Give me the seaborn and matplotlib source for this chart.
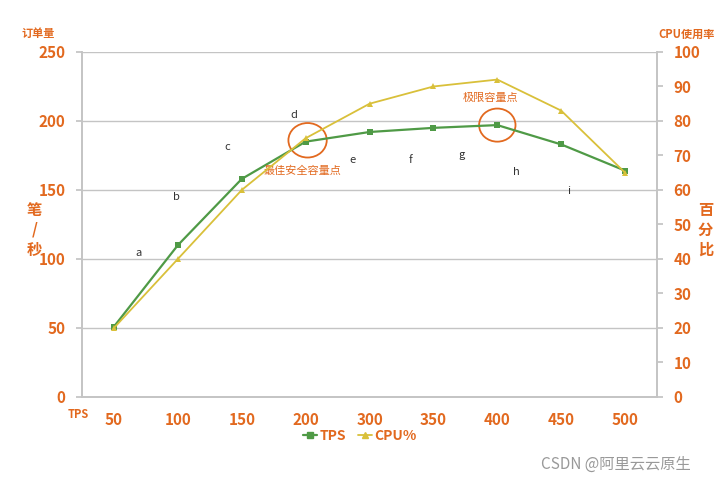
import numpy as np
import pandas as pd
import matplotlib
matplotlib.use('Agg')
import matplotlib.pyplot as plt
from matplotlib.patches import Ellipse
from matplotlib.lines import Line2D
import seaborn as sns

# values
users = ['50', '100', '150', '200', '300', '350', '400', '450', '500']
tps = [51, 110, 158, 185, 192, 195, 197, 183, 164]
cpu = [20, 40, 60, 75, 85, 90, 92, 83, 65]

stage_letters = ['a', 'b', 'c', 'd', 'e', 'f', 'g', 'h', 'i']
letter_x = [0.38, 0.98, 1.78, 2.81, 3.73, 4.64, 5.44, 6.3, 7.12]
letter_y = [104, 145, 181, 204, 172, 172, 175, 163, 149]

orange = '#e2691f'
green = '#4f9a46'
yellow = '#d9c03a'
grid_grey = '#c4c4c4'

sns.set_theme(style='white')
plt.rcParams['font.family'] = ['Noto Sans CJK SC', 'DejaVu Sans']

df = pd.DataFrame({'users': users, 'TPS': tps, 'CPU': cpu})

fig = plt.figure(figsize=(7.2, 4.84), dpi=100)
ax = fig.add_axes([0.114, 0.180, 0.7985, 0.7126])
ax2 = ax.twinx()

sns.lineplot(data=df, x='users', y='TPS', ax=ax, color=green, lw=1.6,
             marker='s', markersize=4, markeredgewidth=0, sort=False)
sns.lineplot(data=df, x='users', y='CPU', ax=ax2, color=yellow, lw=1.3,
             marker='^', markersize=4, markeredgewidth=0, sort=False)

ax.set_xlim(-0.5, len(users) - 0.5)
ax.set_ylim(0, 250)
ax2.set_ylim(0, 100)
ax.set_yticks(np.arange(0, 251, 50))
ax2.set_yticks(np.arange(0, 101, 10))
ax.set_xlabel('')
ax.set_ylabel('')
ax2.set_ylabel('')

# grid and frame
ax.grid(axis='y', color=grid_grey, lw=1)
ax.grid(axis='x', visible=False)
ax2.grid(False)
for a in (ax, ax2):
    for side in ('left', 'right', 'bottom'):
        a.spines[side].set_color(grid_grey)
        a.spines[side].set_linewidth(1.2)
    a.spines['top'].set_visible(False)

tick_font = dict(fontsize=11, fontweight='bold', color=orange)
ax.set_xticks(range(len(users)))
ax.set_xticklabels(users, **tick_font)
ax.set_xticks(np.arange(-0.5, len(users), 1), minor=True)
ax.tick_params(axis='x', which='major', length=0, pad=11)
ax.tick_params(axis='x', which='minor', length=4, color=grid_grey, direction='out')
ax.tick_params(axis='y', length=4, color=grid_grey, pad=8)
ax2.tick_params(axis='y', length=4, color=grid_grey, pad=8)
for lbl in ax.get_yticklabels() + ax2.get_yticklabels():
    lbl.set_fontsize(11)
    lbl.set_fontweight('bold')
    lbl.set_color(orange)

# stage letters
for s, lx, ly in zip(stage_letters, letter_x, letter_y):
    ax.text(lx, ly, s, fontsize=8, color='#333333', ha='center', va='center')

# capacity circles and notes
ax.add_patch(Ellipse((3.03, 186), 0.6, 25, fill=False, ec=orange, lw=1.3))
ax.add_patch(Ellipse((6.0, 197), 0.57, 24, fill=False, ec=orange, lw=1.3))
ax.text(2.95, 164, '最佳安全容量点', color=orange, fontsize=8, ha='center', va='center')
ax.text(5.9, 217, '极限容量点', color=orange, fontsize=8, ha='center', va='center')

# axis titles
lab_font = dict(color=orange, fontweight='bold')
fig.text(0.053, 0.930, '订单量', fontsize=8, ha='center', va='center', **lab_font)
fig.text(0.953, 0.930, 'CPU使用率', fontsize=8, ha='center', va='center', **lab_font)
fig.text(0.108, 0.144, 'TPS', fontsize=8, ha='center', va='center', **lab_font)
fig.text(0.048, 0.525, '笔\n/\n秒', fontsize=11, ha='center', va='center',
         linespacing=1.3, **lab_font)
fig.text(0.980, 0.525, '百\n分\n比', fontsize=11, ha='center', va='center',
         linespacing=1.3, **lab_font)

handles = [Line2D([], [], color=green, marker='s', markersize=4, lw=1.6),
           Line2D([], [], color=yellow, marker='^', markersize=4, lw=1.3)]
leg = fig.legend(handles, ['TPS', 'CPU%'], loc='center', bbox_to_anchor=(0.5, 0.099),
                 ncol=2, frameon=False, handlelength=1.0, handletextpad=0.2,
                 columnspacing=0.8, prop={'weight': 'bold', 'size': 10})
for t in leg.get_texts():
    t.set_color(orange)

fig.text(0.855, 0.04, 'CSDN @阿里云云原生', fontsize=11, color='#999999',
         ha='center', va='center')

fig.savefig('out.png', dpi=100, facecolor='white')
